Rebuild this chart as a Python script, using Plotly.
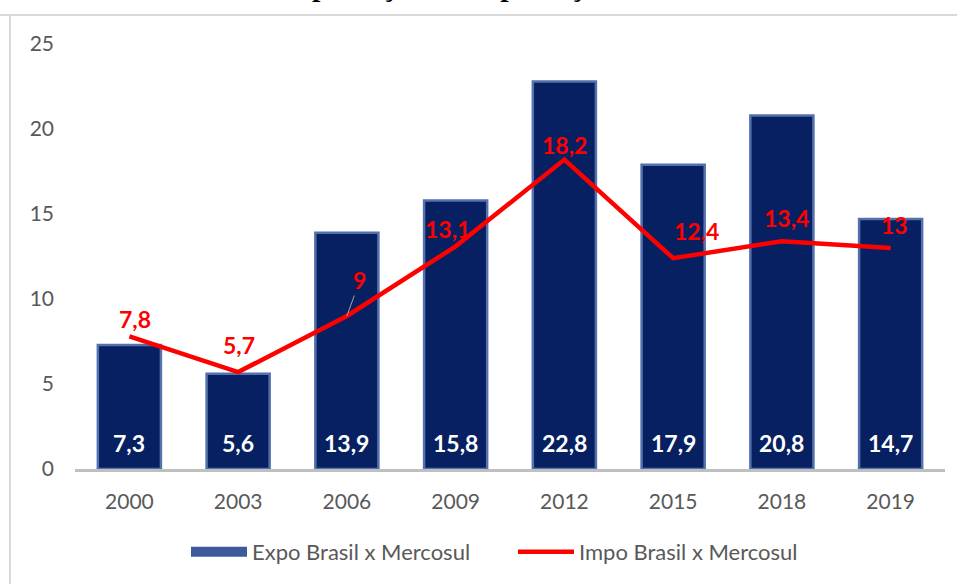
import plotly.graph_objects as go

# ---- data ----
anos = ["2000", "2003", "2006", "2009", "2012", "2015", "2018", "2019"]
expo = [7.3, 5.6, 13.9, 15.8, 22.8, 17.9, 20.8, 14.7]
impo = [7.8, 5.7, 9.0, 13.1, 18.2, 12.4, 13.4, 13.0]
y_ticks = [0, 5, 10, 15, 20, 25]
nome_expo = "Expo Brasil x Mercosul"
nome_impo = "Impo Brasil x Mercosul"
titulo = "Exportações e Importações Brasil"

# ---- layout geometry (pixels) ----
W, H = 957, 584
ML, MR, MT, MB = 75, 12, 44, 115
PW, PH = W - ML - MR, H - MT - MB

def px_x(px):
    return (px - ML) / PW

def px_y(py):
    return (H - MB - py) / PH

def fmt(v):
    s = ("%.1f" % v).rstrip("0").rstrip(".")
    return s.replace(".", ",")

BAR_FILL = "#062061"
BAR_EDGE = "#5470ad"
RED = "#ff0000"
GRAY_TXT = "#595959"
FONT = "Lato, 'Open Sans', sans-serif"

fig = go.Figure()

fig.add_trace(go.Bar(
    x=anos, y=expo, name=nome_expo, showlegend=False,
    marker=dict(color=BAR_FILL, line=dict(color=BAR_EDGE, width=2.5)),
    hoverinfo="skip",
))
# legend proxy for bars (wide rectangle swatch), draws nothing
fig.add_trace(go.Scatter(
    x=anos[:1], y=[float("nan")], mode="lines", name=nome_expo,
    line=dict(color="#3d5a9c", width=12), hoverinfo="skip",
))
fig.add_trace(go.Scatter(
    x=anos, y=impo, name=nome_impo, mode="lines",
    line=dict(color=RED, width=4.5),
    hoverinfo="skip",
))

annotations = []
# white value labels inside bars near base (category axis -> index positions)
for i, v in enumerate(expo):
    annotations.append(dict(
        x=i, y=0, xref="x", yref="y", text=fmt(v), showarrow=False,
        yanchor="middle", yshift=26,
        font=dict(family=FONT, size=23, color="white", weight="bold"),
    ))

# red labels for line (label offsets in pixels)
red_dx = [6, 1, 13, -8, 0, 23, 5, 4]
red_dy = [-17, -27, -36, -17, -15, -27, -23, -23]
for i, v in enumerate(impo):
    if anos[i] == "2006":
        annotations.append(dict(
            x=i, y=v, xref="x", yref="y", text=fmt(v), showarrow=True,
            arrowhead=0, arrowwidth=1, arrowcolor="#a6a6a6",
            ax=red_dx[i], ay=red_dy[i], standoff=0,
            font=dict(family=FONT, size=23, color=RED, weight="bold"),
        ))
    else:
        annotations.append(dict(
            x=i, y=v, xref="x", yref="y", text=fmt(v), showarrow=False,
            xshift=red_dx[i], yshift=-red_dy[i],
            font=dict(family=FONT, size=23, color=RED, weight="bold"),
        ))

# cropped title (only descenders visible at the top edge)
annotations.append(dict(
    x=px_x(275), y=px_y(4.5), xref="paper", yref="paper",
    xanchor="left", yanchor="bottom", text=titulo, showarrow=False,
    font=dict(family="Liberation Serif", size=30, color="black", weight="bold"),
))

shapes = [
    dict(type="line", xref="paper", yref="paper",
         x0=px_x(0), x1=px_x(W + 5), y0=px_y(15), y1=px_y(15),
         line=dict(color="#d9d9d9", width=2)),
    dict(type="line", xref="paper", yref="paper",
         x0=px_x(10), x1=px_x(10), y0=px_y(15), y1=px_y(H + 5),
         line=dict(color="#d9d9d9", width=2)),
]

fig.update_layout(
    width=W, height=H,
    margin=dict(l=ML, r=MR, t=MT, b=MB, pad=0, autoexpand=False),
    paper_bgcolor="white", plot_bgcolor="white",
    bargap=0.42,
    font=dict(family=FONT, color=GRAY_TXT, size=20),
    showlegend=True,
    legend=dict(orientation="h", x=px_x(186), xanchor="left",
                y=px_y(552), yanchor="middle",
                font=dict(family=FONT, size=22, color=GRAY_TXT),
                itemwidth=56, itemsizing="trace",
                entrywidth=256, entrywidthmode="pixels"),
    annotations=annotations,
    shapes=shapes,
)

fig.update_xaxes(
    type="category", categoryorder="array", categoryarray=anos,
    range=[-0.5, len(anos) - 0.5],
    showgrid=False, zeroline=False,
    showline=True, linecolor="#bfbfbf", linewidth=3,
    ticks="", ticklabelstandoff=12,
    tickfont=dict(family=FONT, size=21, color=GRAY_TXT),
    fixedrange=True,
)
fig.update_yaxes(
    range=[0, 25], tickvals=y_ticks, showgrid=False, zeroline=False,
    showline=False, ticks="", ticklabelstandoff=20,
    tickfont=dict(family=FONT, size=21, color=GRAY_TXT),
    fixedrange=True,
)

fig.write_html("out.html")
